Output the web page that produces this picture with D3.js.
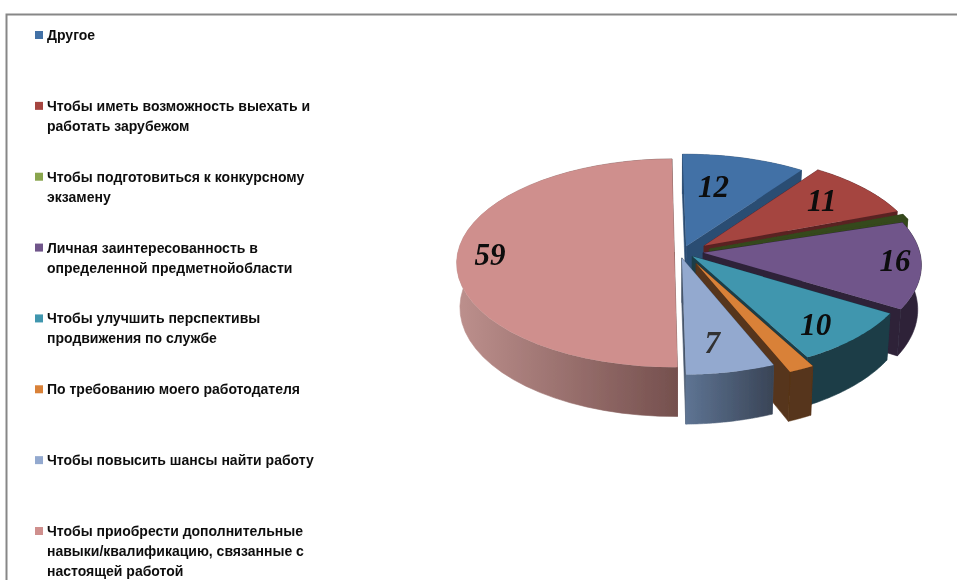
<!DOCTYPE html>
<html lang="ru">
<head>
<meta charset="utf-8">
<script src="https://cdn.jsdelivr.net/npm/d3@7/dist/d3.min.js"></script>
<style>
html,body{margin:0;padding:0;background:#fff;overflow:hidden}
svg{display:block}
</style>
</head>
<body>
<svg id="chart" width="957" height="580"></svg>
<script>
// Data
const categories = [
  "Другое",
  "Чтобы иметь возможность выехать и работать зарубежом",
  "Чтобы подготовиться к конкурсному экзамену",
  "Личная заинтересованность в определенной предметнойобласти",
  "Чтобы улучшить перспективы продвижения по службе",
  "По требованию моего работодателя",
  "Чтобы повысить шансы найти работу",
  "Чтобы приобрести дополнительные навыки/квалификацию, связанные с настоящей работой"
];
const values = [12, 11, 1, 16, 10, 2, 7, 59];
const valueLabels = ["12", "11", "", "16", "10", "", "7", "59"];
const legendLines = [
  ["Другое"],
  ["Чтобы иметь возможность выехать и", "работать зарубежом"],
  ["Чтобы подготовиться к конкурсному", "экзамену"],
  ["Личная заинтересованность в", "определенной предметнойобласти"],
  ["Чтобы улучшить перспективы", "продвижения по службе"],
  ["По требованию моего работодателя"],
  ["Чтобы повысить шансы найти работу"],
  ["Чтобы приобрести дополнительные", "навыки/квалификацию, связанные с", "настоящей работой"]
];

// Styling
const legendColors = ["#4271a6","#a54441","#89a54e","#6f548a","#3f96ae","#d98139","#93a9cf","#cf8f8d"];
const topColors = ["#4271a6","#a54441","#35481c","#6f548a","#3f96ae","#d98139","#93a9cf","#cf8f8d"];
const sideColors = ["#2b4d73","#5a2423","#35481c","#2e2239","#1b3d47","#57341a","#47566c","#a87674"];
const explodeX = [1.2, 1.3, 1.3, 1, 0.85, 1.7, 1, 0.08];
const explodeY = [1, 1.7, 1.5, 1, 1, 2.1, 1, 0];
const labelRadius = [0.64, 0.74, 0, 0.88, 0.81, 0, 0.764, 0.85];
const labelTurn = [-5, -1, 0, -1.4, 3, 0, 2, -1];

const svg = d3.select("#chart");
const defs = svg.append("defs");
defs.append("filter").attr("id","soft")
  .attr("x","-2%").attr("y","-2%").attr("width","104%").attr("height","104%")
  .append("feGaussianBlur").attr("stdDeviation",0.55);
function grad(id, a, b){
  const g = defs.append("linearGradient").attr("id",id);
  g.append("stop").attr("offset",0).attr("stop-color",a);
  g.append("stop").attr("offset",1).attr("stop-color",b);
}
grad("wallPink","#bd908d","#75504e");
grad("wallSteel","#5e7493","#394456");
const wallFill = d => d.index===7 ? "url(#wallPink)" : d.index===6 ? "url(#wallSteel)" : sideColors[d.index];

const root = svg.append("g").attr("filter","url(#soft)");

// Frame
root.append("path").attr("d",d3.line()([[6.5,580],[6.5,14.5],[957,14.5]]))
  .attr("fill","none").attr("stroke","#878787").attr("stroke-width",2);

// Perspective projection of the pie's ground plane
const cx=676.5, cy=252, a=216.5, b=103, k=0.106, depth=44, offX=0.124, offY=0.058, taper=0.015;
const rad = Math.PI/180;
const pie = d3.pie().sort(null).startAngle(-0.8*rad).endAngle(359.2*rad);
const arcs = pie(values);

function ground(d, r, ang){
  const mid=(d.startAngle+d.endAngle)/2;
  return [ r*Math.sin(ang)+explodeX[d.index]*offX*Math.sin(mid),
           r*Math.cos(ang)+explodeY[d.index]*offY*Math.cos(mid) ];
}
function project(g, z){
  const s=1/(1+k*g[1]);
  return [cx+a*g[0]*s*(1-taper*z), cy-b*g[1]*s+z*depth*s];
}
const line = d3.line();
const rim = d => d3.range(0,41).map(i=>d.startAngle+(d.endAngle-d.startAngle)*i/40);

const slices = root.selectAll("g.slice")
  .data([arcs[7],...arcs.slice(0,7)]).join("g").attr("class","slice");

// cut faces
slices.each(function(d){
  const g=d3.select(this);
  [d.startAngle,d.endAngle].forEach(ang=>{
    const o=ground(d,0,ang), e=ground(d,1,ang);
    const c=d.index===7?"#75504e":sideColors[d.index];
    g.append("path")
      .attr("d",line([project(o,0),project(e,0),project(e,1),project(o,1)])+"Z")
      .attr("fill",c).attr("stroke",c).attr("stroke-width",0.6);
  });
});
// outer wall
slices.append("path").attr("fill",wallFill).attr("stroke",wallFill).attr("stroke-width",0.6).attr("d",d=>{
  const pts=rim(d).map(t=>ground(d,1,t));
  return line([...pts.map(p=>project(p,0)),...pts.slice().reverse().map(p=>project(p,1))])+"Z";
});
// top
slices.append("path").attr("fill",d=>topColors[d.index]).attr("d",d=>{
  const pts=rim(d).map(t=>project(ground(d,1,t),0));
  return line([project(ground(d,0,0),0),...pts])+"Z";
});

// value labels
root.selectAll("text.val").data(arcs.filter(d=>valueLabels[d.index])).join("text")
  .attr("class","val")
  .attr("text-anchor","middle")
  .attr("font-family","'Liberation Serif',serif")
  .attr("font-weight","bold").attr("font-style","italic")
  .attr("font-size",31).attr("fill",d=>d.index===6?"#333":"#0a0a0a")
  .each(function(d){
    const mid=(d.startAngle+d.endAngle)/2+labelTurn[d.index]*rad;
    const p=project(ground(d,labelRadius[d.index],mid),0);
    d3.select(this).attr("x",p[0]).attr("y",p[1]+10);
  })
  .text(d=>valueLabels[d.index]);

// Legend
const legendY = d3.scalePoint().domain(d3.range(categories.length)).range([35,531]);
const legend = root.selectAll("g.leg").data(categories).join("g").attr("class","leg")
  .attr("transform",(d,i)=>`translate(35,${legendY(i)})`);
legend.append("rect").attr("x",0).attr("y",-4).attr("width",8).attr("height",8)
  .attr("fill",(d,i)=>legendColors[i]);
legend.each(function(d,i){
  d3.select(this).selectAll("text").data(legendLines[i]).join("text")
    .attr("x",12).attr("y",(t,j)=>j*20+5)
    .attr("font-family","'Liberation Sans',Arial,sans-serif")
    .attr("font-weight","bold").attr("font-size",14).attr("fill","#111")
    .text(t=>t);
});
</script>
</body>
</html>
